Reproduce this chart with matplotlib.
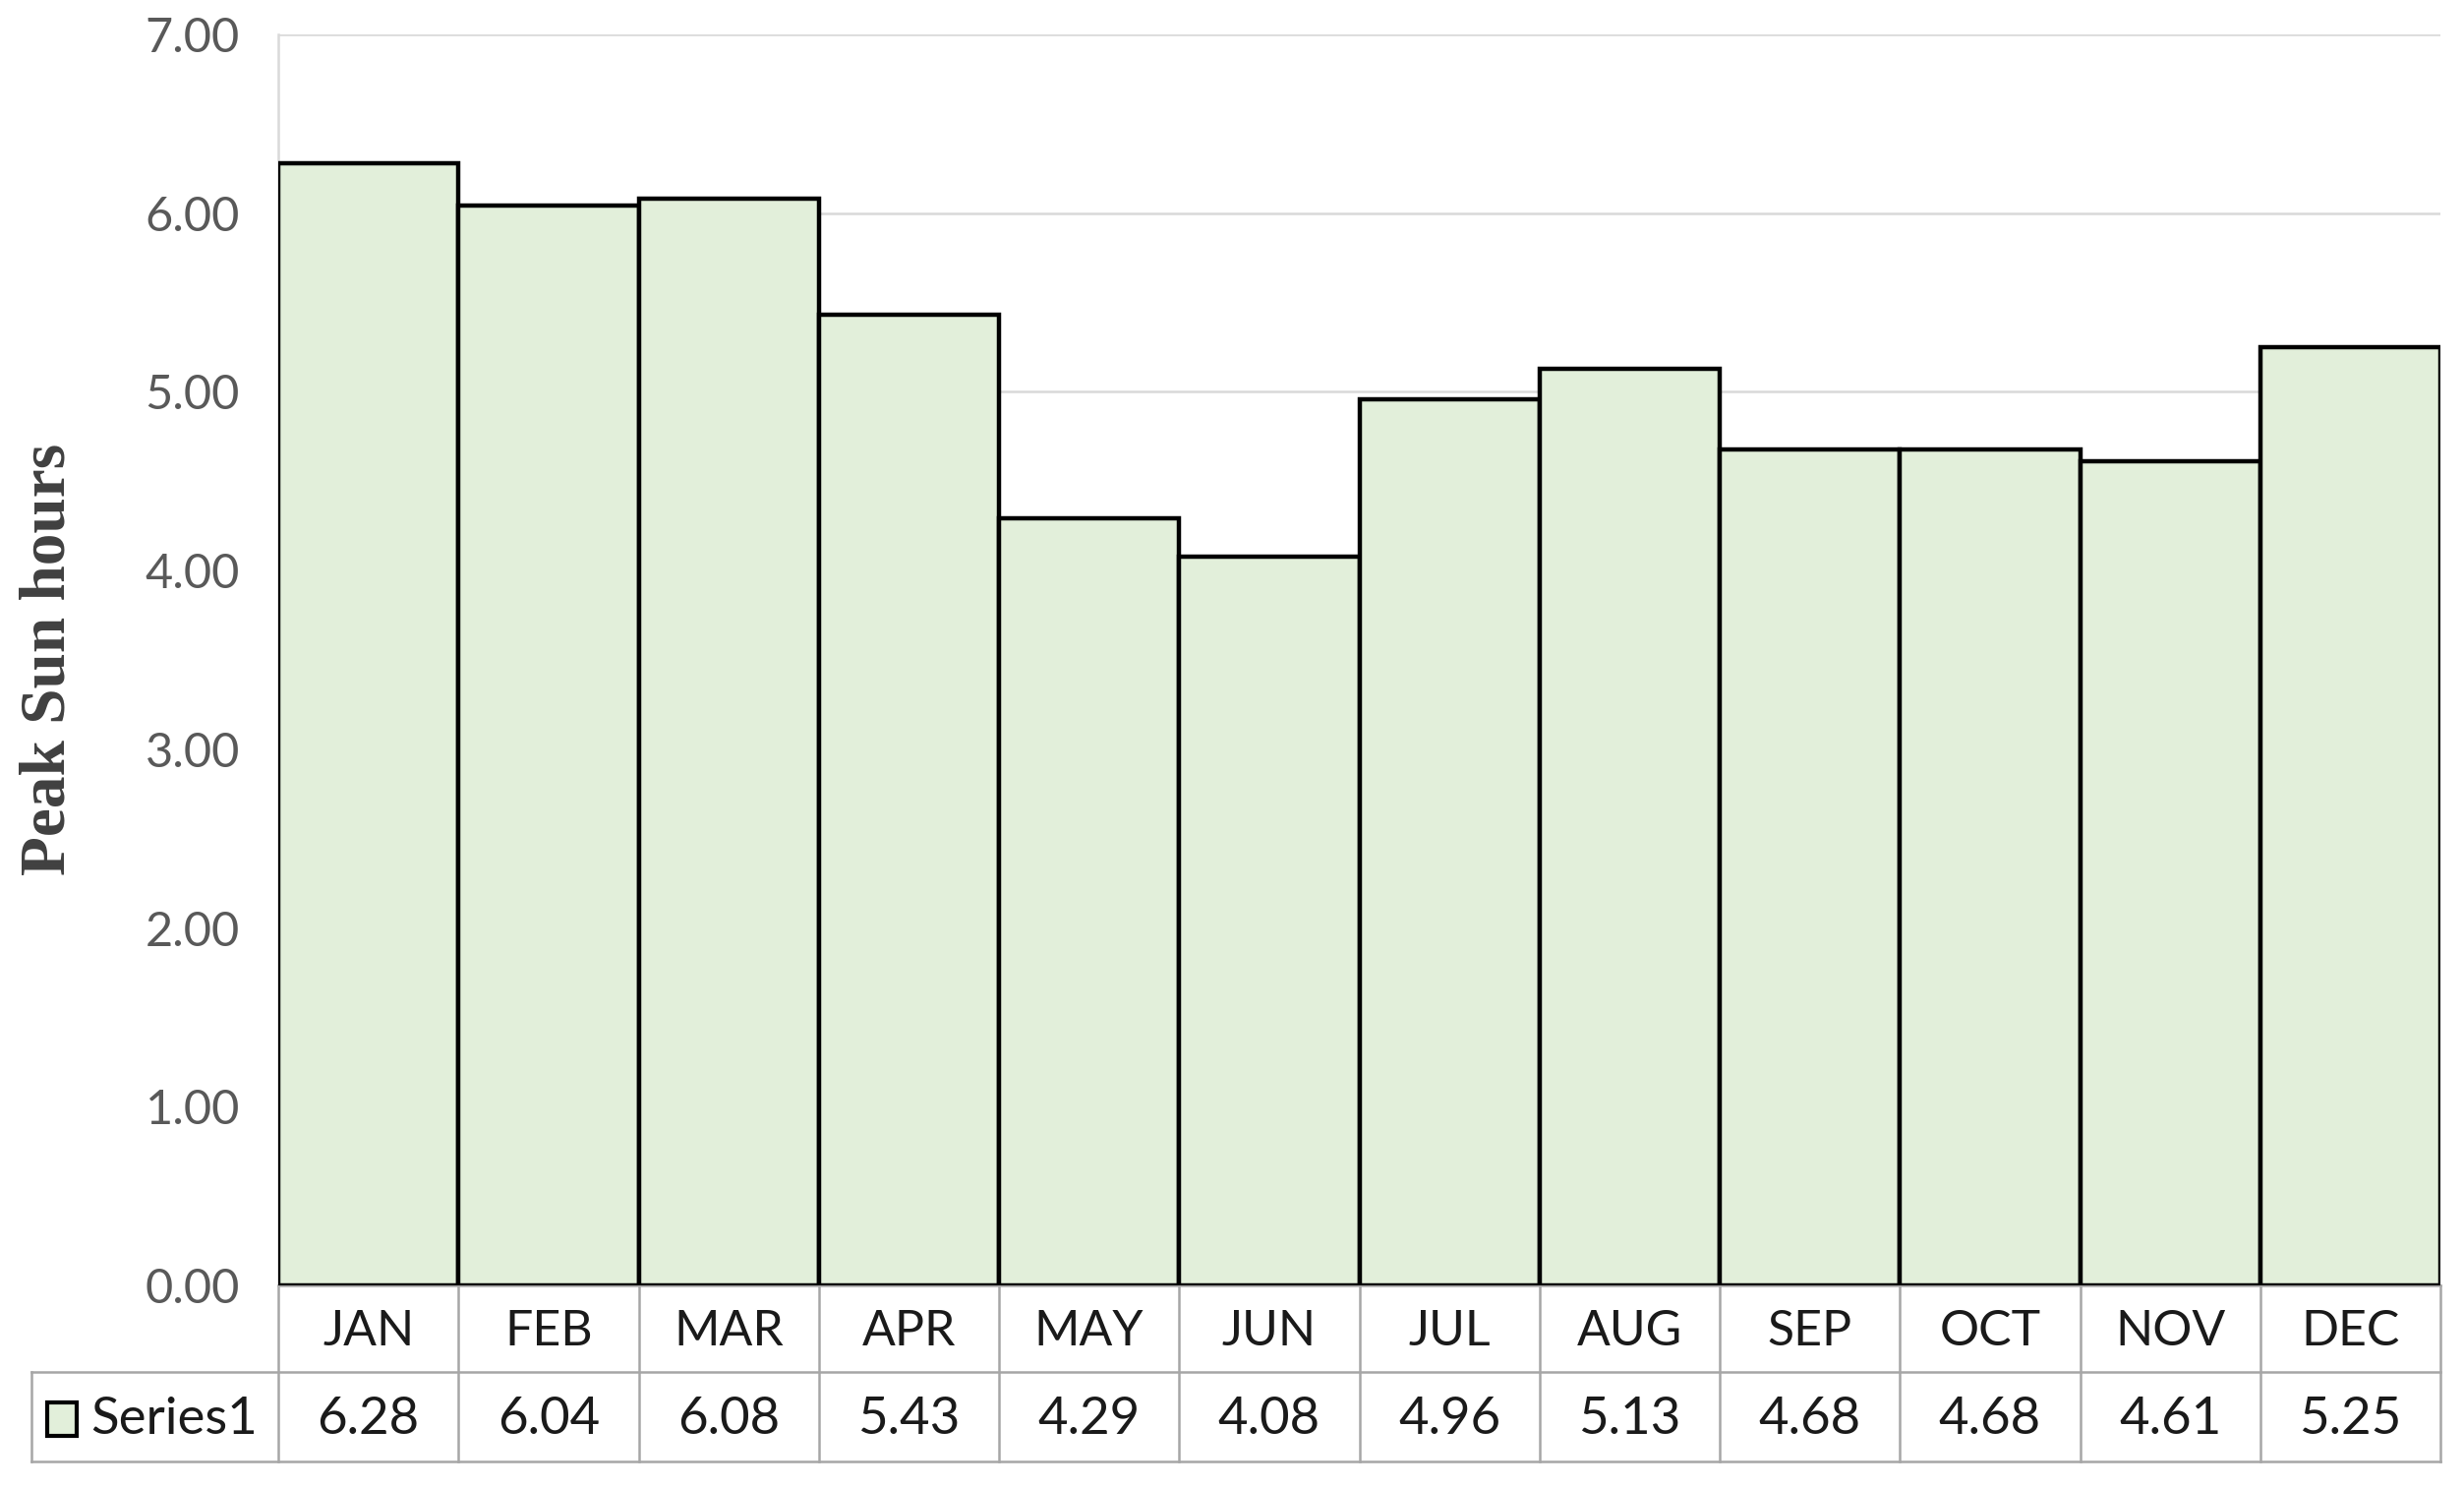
import matplotlib
matplotlib.use("Agg")
import matplotlib.pyplot as plt
import matplotlib.transforms as mtrans
from matplotlib.patches import Rectangle
import numpy as np

months = ["JAN", "FEB", "MAR", "APR", "MAY", "JUN", "JUL", "AUG", "SEP", "OCT", "NOV", "DEC"]
values = [6.28, 6.04, 6.08, 5.43, 4.29, 4.08, 4.96, 5.13, 4.68, 4.68, 4.61, 5.25]
series_name = "Series1"
y_ticks = [0, 1, 2, 3, 4, 5, 6, 7]
y_label = "Peak Sun hours"

W, H = 2506, 1513
fig = plt.figure(figsize=(W / 100, H / 100), dpi=100)
fig.patch.set_facecolor("white")

left_px, right_px, top_px, zero_px = 283, 2482, 35, 1307
row1_px, row2_px, tab_left_px = 1395, 1486, 32

ax = fig.add_axes([left_px / W, 1 - zero_px / H, (right_px - left_px) / W, (zero_px - top_px) / H])

x = np.arange(len(months))
fill = "#E2EFDA"
grid_c = "#D9D9D9"
table_c = "#A6A6A6"

ax.bar(x, values, width=1.0, color=fill, edgecolor="black", linewidth=3.2, zorder=3)
ax.set_xlim(-0.5, len(months) - 0.5)
ax.set_ylim(0, 7)
ax.set_yticks(y_ticks)
ax.set_yticklabels([f"{t:.2f}" for t in y_ticks], fontsize=35, color="#595959", family="Lato")
ax.set_xticks([])
ax.tick_params(axis="y", length=0, pad=28)
ax.yaxis.grid(True, color=grid_c, linewidth=1.8, zorder=0)
for s in ["top", "right"]:
    ax.spines[s].set_visible(False)
ax.spines["left"].set_color(grid_c)
ax.spines["left"].set_linewidth(1.8)
ax.spines["bottom"].set_color(table_c)
ax.spines["bottom"].set_linewidth(1.8)

fig.text(50 / W, 1 - 670 / H, y_label, rotation=90, ha="center", va="center",
         fontsize=47, fontweight="bold", family="Liberation Serif", color="#404040")

# data table
bt = mtrans.blended_transform_factory(ax.transData, fig.transFigure)
ft = fig.transFigure
fy = lambda p: 1 - p / H
fx = lambda p: p / W

lw = 1.8
for b in np.arange(-0.5, len(months) + 0.5, 1.0):
    ax.plot([b, b], [fy(zero_px), fy(row2_px)], transform=bt, color=table_c, lw=lw, clip_on=False)
ax.plot([fx(tab_left_px), fx(right_px)], [fy(row1_px), fy(row1_px)], transform=ft, color=table_c, lw=lw, clip_on=False)
ax.plot([fx(tab_left_px), fx(right_px)], [fy(row2_px), fy(row2_px)], transform=ft, color=table_c, lw=lw, clip_on=False)
ax.plot([fx(tab_left_px), fx(tab_left_px)], [fy(row1_px), fy(row2_px)], transform=ft, color=table_c, lw=lw, clip_on=False)

for xi, m, v in zip(x, months, values):
    ax.text(xi, fy((zero_px + row1_px) / 2 + 3), m, transform=bt, ha="center", va="center",
            fontsize=36, family="Lato", color="#1a1a1a")
    ax.text(xi, fy((row1_px + row2_px) / 2 + 3), f"{v:.2f}", transform=bt, ha="center", va="center",
            fontsize=38, family="Lato", color="#1a1a1a")

# legend key
key_w, key_h = 30, 34
key_x, key_y = 48, (row1_px + row2_px) / 2 - key_h / 2 + 2
fig.add_artist(Rectangle((fx(key_x), fy(key_y + key_h)), key_w / W, key_h / H, transform=ft,
                         facecolor=fill, edgecolor="black", linewidth=3.0))
fig.text(fx(92), fy((row1_px + row2_px) / 2 + 3), series_name, ha="left", va="center",
         fontsize=38, family="Lato", color="#1a1a1a")

fig.savefig("out.png", dpi=100, facecolor="white")
